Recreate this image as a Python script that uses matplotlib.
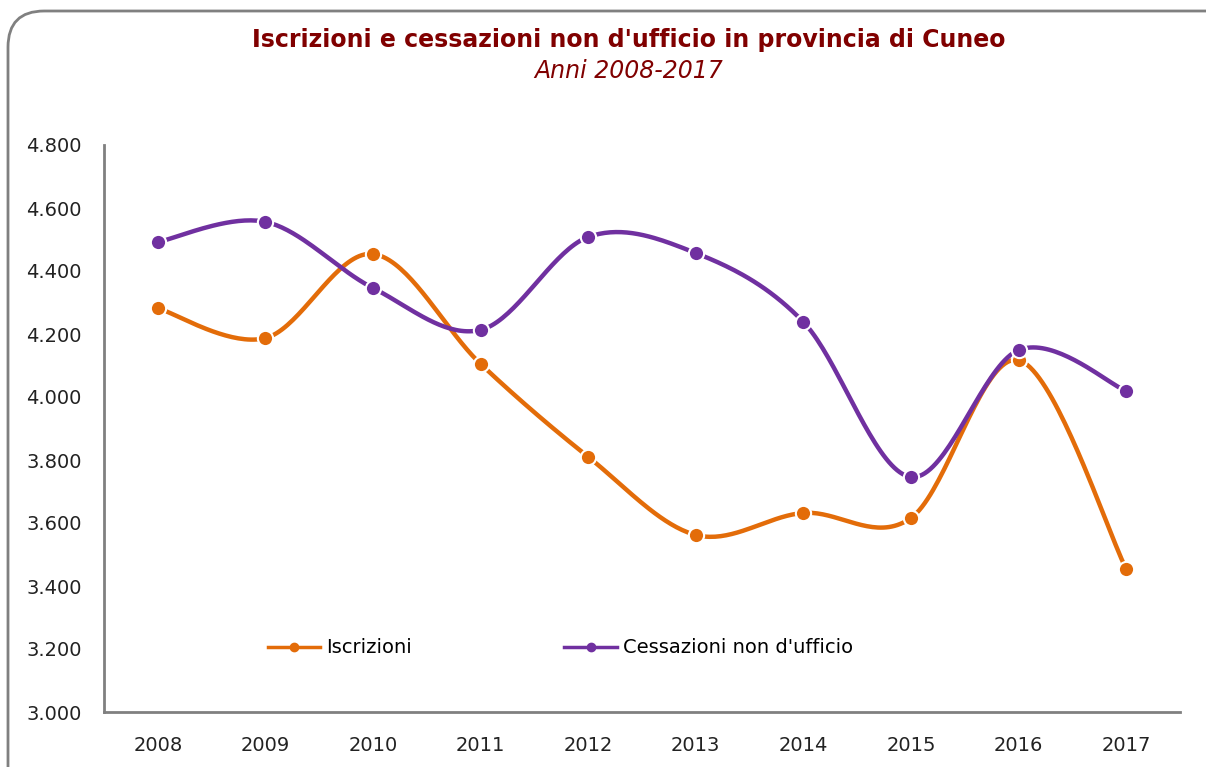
import numpy as np
import matplotlib.pyplot as plt
from matplotlib.patches import FancyBboxPatch

years = ['2008', '2009', '2010', '2011', '2012', '2013', '2014', '2015', '2016', '2017']
iscrizioni = [4282, 4187, 4454, 4105, 3810, 3562, 3632, 3616, 4117, 3454]
cessazioni = [4492, 4556, 4346, 4213, 4508, 4457, 4238, 3746, 4149, 4019]

orange = '#E36C09'
purple = '#7030A0'
title_col = '#800000'


def smooth(xs, ys, n=40):
    # Catmull-Rom through the points, like Excel's smoothed line
    xs = np.asarray(xs, float)
    ys = np.asarray(ys, float)
    px = np.concatenate([[xs[0]], xs, [xs[-1]]])
    py = np.concatenate([[ys[0]], ys, [ys[-1]]])
    ox, oy = [], []
    t = np.linspace(0, 1, n)
    for i in range(1, len(px) - 2):
        p0x, p1x, p2x, p3x = px[i - 1], px[i], px[i + 1], px[i + 2]
        p0y, p1y, p2y, p3y = py[i - 1], py[i], py[i + 1], py[i + 2]
        c1x = p1x + (p2x - p0x) / 6
        c1y = p1y + (p2y - p0y) / 6
        c2x = p2x - (p3x - p1x) / 6
        c2y = p2y - (p3y - p1y) / 6
        bx = (1 - t) ** 3 * p1x + 3 * (1 - t) ** 2 * t * c1x + 3 * (1 - t) * t ** 2 * c2x + t ** 3 * p2x
        by = (1 - t) ** 3 * p1y + 3 * (1 - t) ** 2 * t * c1y + 3 * (1 - t) * t ** 2 * c2y + t ** 3 * p2y
        ox.extend(bx)
        oy.extend(by)
    return np.array(ox), np.array(oy)


fig = plt.figure(figsize=(12.06, 7.67), dpi=100)
ax = fig.add_axes([104 / 1206, 1 - 712 / 767, (1180 - 104) / 1206, (712 - 145) / 767])

x = np.arange(len(years))
for vals, col, lab in [(iscrizioni, orange, 'Iscrizioni'), (cessazioni, purple, "Cessazioni non d'ufficio")]:
    sx, sy = smooth(x, vals)
    ax.plot(sx, sy, color=col, lw=3.2, solid_capstyle='round', zorder=2)
    ax.plot(x, vals, 'o', color=col, ms=11, mec='white', mew=1.5, zorder=3)
    ax.plot([], [], color=col, lw=2.5, marker='o', ms=6, label=lab)

ax.set_xlim(-0.5, 9.5)
ax.set_ylim(3000, 4800)
ax.set_xticks(x)
ax.set_xticklabels(years)
ticks = np.arange(3000, 4801, 200)
ax.set_yticks(ticks)
ax.set_yticklabels([f'{t // 1000}.{t % 1000:03d}' for t in ticks])
ax.tick_params(length=0, labelsize=14, colors='#222222')
ax.tick_params(axis='y', pad=16)
ax.tick_params(axis='x', pad=17)
for s in ['top', 'right']:
    ax.spines[s].set_visible(False)
for s in ['left', 'bottom']:
    ax.spines[s].set_color('#808080')
    ax.spines[s].set_linewidth(2)

ax.legend(loc='center', bbox_to_anchor=(0.424, 0.113), ncol=2, frameon=False,
          fontsize=14, columnspacing=7.85, handlelength=2.7, handletextpad=0.3)

fig.text(0.521, 0.948, "Iscrizioni e cessazioni non d'ufficio in provincia di Cuneo",
         ha='center', va='center', fontsize=17, fontweight='bold', color=title_col)
fig.text(0.521, 0.908, 'Anni 2008-2017', ha='center', va='center', fontsize=17,
         style='italic', color=title_col)

border = FancyBboxPatch((8 / 1206, -0.05), 1.1, 1 - 11 / 767 + 0.05,
                        boxstyle='round,pad=0,rounding_size=0.03', transform=fig.transFigure,
                        fill=False, edgecolor='#808080', lw=2, mutation_aspect=1206 / 767)
fig.patches.append(border)

fig.savefig('out.png', dpi=100)
